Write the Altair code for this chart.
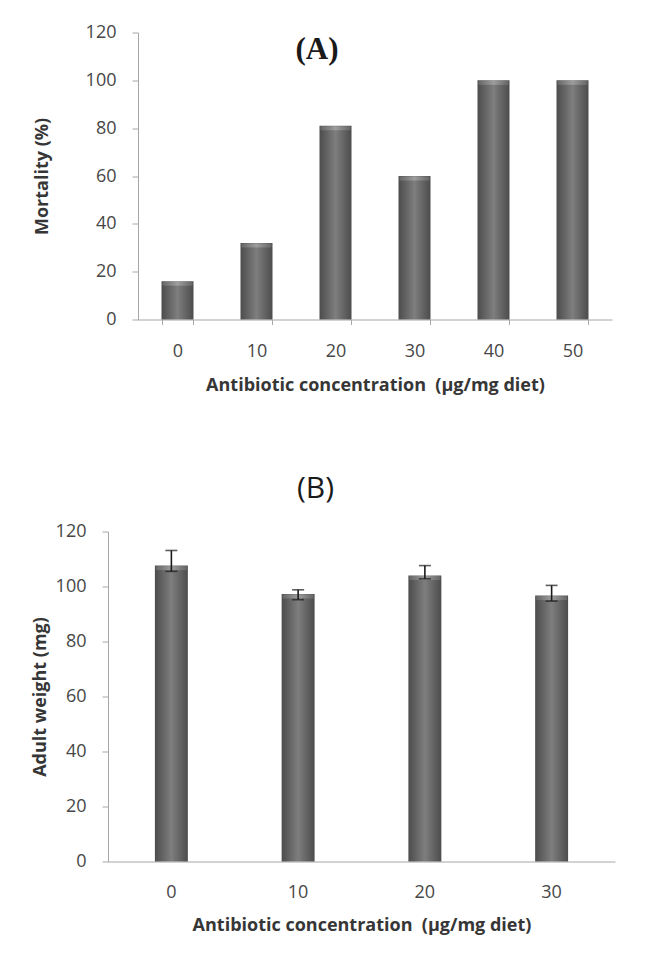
import altair as alt
import pandas as pd

# ---- data ----
conc_a = ["0", "10", "20", "30", "40", "50"]
mortality = [16, 32, 81, 60, 100, 100]

conc_b = ["0", "10", "20", "30"]
weight = [107.6, 97.3, 104.0, 96.7]
weight_lo = [105.5, 95.2, 102.8, 94.7]
weight_hi = [113.1, 98.8, 107.6, 100.4]

y_ticks = [0, 20, 40, 60, 80, 100, 120]

df_a = pd.DataFrame({"conc": conc_a, "mortality": mortality})
df_b = pd.DataFrame({"conc": conc_b, "weight": weight, "lo": weight_lo, "hi": weight_hi})

FONT = "Open Sans"
AXIS_GREY = "#a6a6a6"
LABEL_GREY = "#474747"
TITLE_GREY = "#363636"
XTITLE = "Antibiotic concentration\u00a0 (\u00b5g/mg diet)"


def hgrad(edge, mid):
    return alt.Gradient(
        gradient="linear",
        stops=[
            alt.GradientStop(color=edge, offset=0),
            alt.GradientStop(color=mid, offset=0.5),
            alt.GradientStop(color=edge, offset=1),
        ],
        x1=0, x2=1, y1=0, y2=0,
    )


bar_fill = hgrad("#4c4c4c", "#7e7e7e")
bevel_fill = hgrad("#707070", "#ababab")


def y_axis(title, title_x, height, pad, offset=0):
    return alt.Axis(
        title=title, values=y_ticks, grid=False, tickSize=6, labelPadding=pad,
        tickColor=AXIS_GREY, domainColor=AXIS_GREY, offset=offset,
        labelFont=FONT, labelFontSize=18, labelColor=LABEL_GREY,
        titleFont=FONT, titleFontSize=18, titleFontWeight="bold", titleColor=TITLE_GREY,
        titleX=title_x, titleY=height / 2, titleAngle=270, titleBaseline="middle",
        titleAlign="center",
    )


# ---------- Panel A ----------
SHIFT_A = 30          # panel A's axis sits 30px right of panel B's
WA, HA = 474, 287
xa = alt.X(
    "conc:N", sort=conc_a,
    scale=alt.Scale(paddingInner=0.595, paddingOuter=0.2975, range=[SHIFT_A, SHIFT_A + WA]),
    axis=alt.Axis(
        title=XTITLE, labelAngle=0, tickBand="extent", tickSize=5,
        tickColor=AXIS_GREY, domainColor=AXIS_GREY, labelPadding=18, titlePadding=16,
        labelFont=FONT, labelFontSize=18, labelColor=LABEL_GREY,
        titleFont=FONT, titleFontSize=18, titleFontWeight="bold", titleColor=TITLE_GREY,
    ),
)
ya_scale = alt.Scale(domain=[0, 120], nice=False)
bars_a = alt.Chart(df_a).mark_bar(color=bar_fill).encode(
    x=xa,
    y=alt.Y("mortality:Q", scale=ya_scale,
            axis=y_axis("Mortality (%)", -96, HA, 16, offset=-SHIFT_A)),
)
bevel_a = alt.Chart(df_a).mark_tick(color=bevel_fill, thickness=4, size=30, yOffset=2.5).encode(
    x=alt.X("conc:N", sort=conc_a), y=alt.Y("mortality:Q")
)
panel_a = alt.layer(bars_a, bevel_a).properties(
    width=SHIFT_A + WA, height=HA,
    title=alt.TitleParams(
        "(A)", font="Liberation Serif", fontSize=31, fontWeight="bold", color="#1a1a1a",
        anchor="middle", frame="group", dx=-43, dy=42, offset=0,
    ),
)

# ---------- Panel B ----------
WB, HB = 507, 330
xb = alt.X(
    "conc:N", sort=conc_b,
    scale=alt.Scale(paddingInner=0.74, paddingOuter=0.37),
    axis=alt.Axis(
        title=XTITLE, labelAngle=0, ticks=False, tickSize=0,
        domainColor=AXIS_GREY, labelPadding=22, titlePadding=15,
        labelFont=FONT, labelFontSize=18, labelColor=LABEL_GREY,
        titleFont=FONT, titleFontSize=18, titleFontWeight="bold", titleColor=TITLE_GREY,
    ),
)
yb_scale = alt.Scale(domain=[0, 120], nice=False)
bars_b = alt.Chart(df_b).mark_bar(color=bar_fill).encode(
    x=xb, y=alt.Y("weight:Q", scale=yb_scale, axis=y_axis("Adult weight (mg)", -68, HB, 16))
)
bevel_b = alt.Chart(df_b).mark_tick(color=bevel_fill, thickness=4, size=31, yOffset=2.5).encode(
    x=alt.X("conc:N", sort=conc_b), y=alt.Y("weight:Q")
)
err_b = alt.Chart(df_b).mark_rule(color="#1a1a1a", strokeWidth=1.6).encode(
    x=alt.X("conc:N", sort=conc_b), y=alt.Y("lo:Q"), y2="hi:Q"
)
cap_lo = alt.Chart(df_b).mark_tick(color="#1a1a1a", thickness=1.6, size=12).encode(
    x=alt.X("conc:N", sort=conc_b), y=alt.Y("lo:Q")
)
cap_hi = alt.Chart(df_b).mark_tick(color="#1a1a1a", thickness=1.6, size=12).encode(
    x=alt.X("conc:N", sort=conc_b), y=alt.Y("hi:Q")
)
panel_b = alt.layer(bars_b, bevel_b, err_b, cap_lo, cap_hi).properties(
    width=WB, height=HB,
    title=alt.TitleParams(
        "(B)", font=FONT, fontSize=30, fontWeight="normal", color="#1a1a1a",
        anchor="middle", frame="group", dx=-46, offset=19,
    ),
)

chart = alt.concat(panel_a, panel_b, columns=1, spacing=79).properties(
    padding={"left": 23, "top": 15.5, "right": 5, "bottom": 5},
    background="white",
).configure_view(strokeWidth=0)

chart.save("out.html", embed_options={"renderer": "svg", "actions": False})
